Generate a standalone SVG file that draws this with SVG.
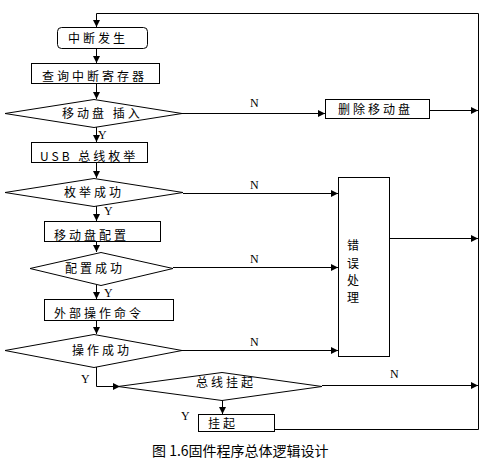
<svg xmlns="http://www.w3.org/2000/svg" width="484" height="460" viewBox="0 0 484 460">
<defs>
<marker id="ah" viewBox="0 0 10 10" refX="10" refY="5" markerWidth="9" markerHeight="7" markerUnits="userSpaceOnUse" orient="auto">
<path d="M0,0 L10,5 L0,10 z" fill="#000"/>
</marker>
<style>
.b{fill:#fff;stroke:#000;stroke-width:1}
.c{fill:none;stroke:#000;stroke-width:1}
.a{fill:none;stroke:#000;stroke-width:1;marker-end:url(#ah)}
.t{font-family:"Noto Sans CJK SC","Noto Sans",sans-serif;font-size:12px;fill:#000;letter-spacing:3px}
.l{font-family:"Liberation Serif",serif;font-size:12px;fill:#000}
.cap{font-family:"Noto Sans CJK SC","Noto Sans",sans-serif;font-size:14px;fill:#000}
</style>
</defs>
<rect width="484" height="460" fill="#fff"/>
<g id="connectors">
<polyline class="a" points="274.5,429.5 478.5,429.5 478.5,13.5 96.5,13.5 96.5,27"/>
<line class="a" x1="96.5" y1="48" x2="96.5" y2="63"/>
<line class="a" x1="96.5" y1="83" x2="96.5" y2="99"/>
<line class="a" x1="182" y1="113.5" x2="325" y2="113.5"/>
<line class="a" x1="429" y1="110.5" x2="478" y2="110.5"/>
<line class="a" x1="96.5" y1="127" x2="96.5" y2="142"/>
<line class="a" x1="96.5" y1="162" x2="96.5" y2="178"/>
<line class="a" x1="183" y1="193.5" x2="338" y2="193.5"/>
<line class="a" x1="96.5" y1="206" x2="96.5" y2="221"/>
<line class="a" x1="96.5" y1="241" x2="96.5" y2="252"/>
<line class="a" x1="173" y1="267.5" x2="338" y2="267.5"/>
<line class="a" x1="96.5" y1="285" x2="96.5" y2="299"/>
<line class="a" x1="96.5" y1="320" x2="96.5" y2="334"/>
<line class="a" x1="182" y1="350.5" x2="338" y2="350.5"/>
<line class="a" x1="389" y1="238.5" x2="478" y2="238.5"/>
<polyline class="a" points="96.5,367 96.5,386.5 120,386.5"/>
<line class="a" x1="322" y1="385.5" x2="478" y2="385.5"/>
<line class="a" x1="222.5" y1="400" x2="222.5" y2="414"/>
<text class="l" x="98" y="139">Y</text>
<text class="l" x="250" y="107">N</text>
<text class="l" x="104" y="215">Y</text>
<text class="l" x="250" y="189">N</text>
<text class="l" x="104" y="297">Y</text>
<text class="l" x="250" y="263">N</text>
<text class="l" x="250" y="346">N</text>
<text class="l" x="81" y="383">Y</text>
<text class="l" x="390" y="378">N</text>
<text class="l" x="181" y="420">Y</text>
</g>
<g id="n1"><rect class="b" x="57.5" y="27.5" width="90" height="21" rx="4"/><text class="t" x="68" y="43">中断发生</text></g>
<g id="n2"><rect class="b" x="31.5" y="63.5" width="128" height="20"/><text class="t" x="42" y="81">查询中断寄存器</text></g>
<g id="n3"><polygon class="b" points="5,113.5 94,99.5 182,113.5 94,127.5"/><text class="t" x="62" y="118">移动盘 插入</text></g>
<g id="n4"><rect class="b" x="325.5" y="99.5" width="104" height="19"/><text class="t" x="338" y="114">删除移动盘</text></g>
<g id="n5"><rect class="b" x="31.5" y="142.5" width="116" height="20"/><text class="t" x="40" y="161">USB 总线枚举</text></g>
<g id="n6"><polygon class="b" points="5,192.5 94,178.5 183,192.5 94,206.5"/><text class="t" x="64" y="197">枚举成功</text></g>
<g id="n7"><rect class="b" x="44.5" y="221.5" width="116" height="20"/><text class="t" x="54" y="240">移动盘配置</text></g>
<g id="n8"><polygon class="b" points="30,268.5 101,252.5 173,268.5 101,285.5"/><text class="t" x="65" y="273">配置成功</text></g>
<g id="n9"><rect class="b" x="44.5" y="299.5" width="129" height="21"/><text class="t" x="54" y="318">外部操作命令</text></g>
<g id="n10"><polygon class="b" points="5,350.5 94,334.5 182,350.5 94,367.5"/><text class="t" x="72" y="355">操作成功</text></g>
<g id="n11"><rect class="b" x="338.5" y="177.5" width="51" height="179"/>
<text class="t" x="347" y="250" letter-spacing="0">错</text>
<text class="t" x="347" y="268" letter-spacing="0">误</text>
<text class="t" x="347" y="285" letter-spacing="0">处</text>
<text class="t" x="347" y="302" letter-spacing="0">理</text></g>
<g id="n12"><polygon class="b" points="118,386.5 222,372.5 322,386.5 222,400.5"/><text class="t" x="196" y="387">总线挂起</text></g>
<g id="n13"><rect class="b" x="198.5" y="414.5" width="76" height="17"/><text class="t" x="208" y="428">挂起</text></g>
<text class="cap" x="152" y="456">图 1.6固件程序总体逻辑设计</text>
</svg>
